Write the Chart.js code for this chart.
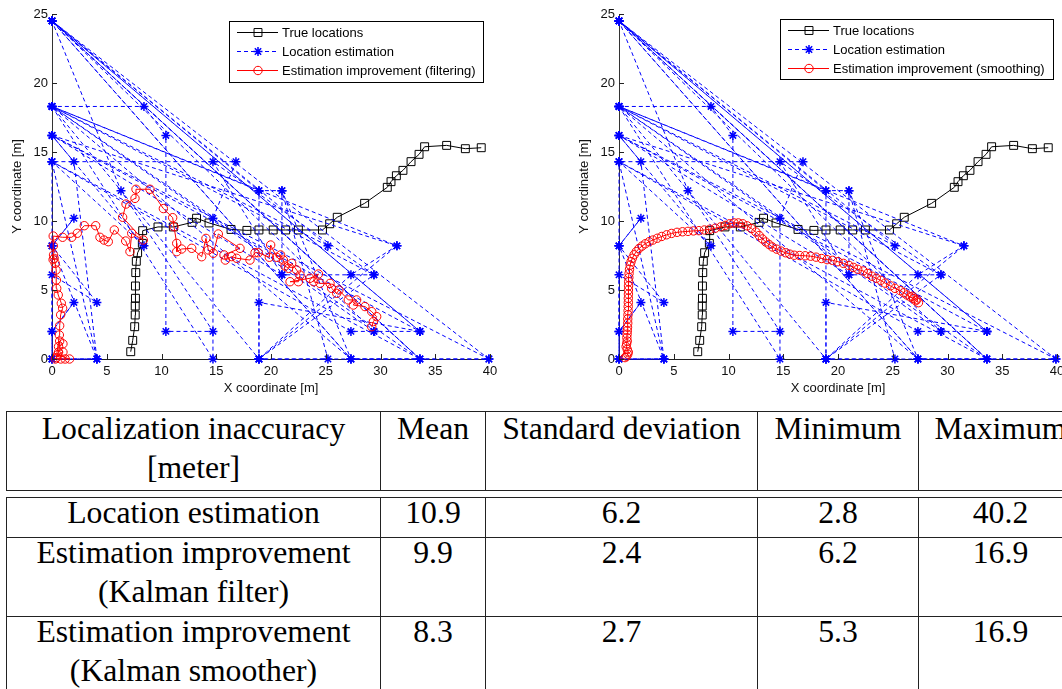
<!DOCTYPE html>
<html>
<head>
<meta charset="utf-8">
<title>Localization tracks</title>
<script src="https://cdn.jsdelivr.net/npm/chart.js@4.4.1/dist/chart.umd.min.js"></script>
<style>
  html, body { margin: 0; padding: 0; background: #fff; width: 1062px; height: 689px; overflow: hidden; }
  #wrap { position: relative; width: 1062px; height: 689px; overflow: hidden; }
  canvas { position: absolute; top: 0; }
  #leftPlot { left: 0; }
  #rightPlot { left: 567px; }
  table.stats {
    position: absolute; left: 6px; width: 1076px; border-collapse: collapse; table-layout: fixed;
    font-family: "Liberation Serif", "Times New Roman", serif; font-size: 31.7px; line-height: 39px; color: #000;
  }
  table.stats td { border: 1px solid #222; padding: 0; vertical-align: top; text-align: center; white-space: nowrap; overflow: visible; }
  #statHead td div { position: relative; top: -3.3px; }
  #statBody td div { position: relative; top: -5.5px; }
</style>
</head>
<body>
<div id="wrap">
  <canvas id="leftPlot" width="567" height="400"></canvas>
  <canvas id="rightPlot" width="567" height="400"></canvas>
  <table class="stats" id="statHead" style="top:411px"></table>
  <table class="stats" id="statBody" style="top:497px"></table>
</div>
<script>
// axis ticks
const xTicks = [0, 5, 10, 15, 20, 25, 30, 35, 40];
const yTicks = [0, 5, 10, 15, 20, 25];

// true walking path
const trueX = [7.19, 7.37, 7.55, 7.6, 7.6, 7.62, 7.62, 7.65, 7.7, 7.82, 8.25, 8.28, 9.68, 11.08, 12.79, 13.2, 14.34, 16.35, 17.8, 18.9,
  20.2, 21.34, 22.5, 24.7, 25.36, 26.05, 28.55, 30.62, 30.96, 31.45, 32.05, 32.79, 33.52, 34.03, 36.04, 37.75, 39.2];
const trueY = [0.53, 1.35, 2.34, 3.19, 3.84, 4.4, 5.29, 6.26, 7.08, 7.7, 8.38, 9.3, 9.57, 9.57, 9.9, 10.2, 9.86, 9.39, 9.32, 9.35,
  9.35, 9.35, 9.35, 9.35, 9.8, 10.27, 11.28, 12.44, 12.85, 13.28, 13.67, 14.3, 14.83, 15.38, 15.48, 15.24, 15.31];

// raw location estimates (they snap to the sensor grid)
const estX = [0, 4.1, 0, 0, 2, 0, 0, 4.1, 0, 0, 4.1, 0, 2, 0, 0, 8.4, 0, 2, 4.1, 0,
  16.8, 14.7, 14.7, 0, 18.9, 18.9, 0, 8.4, 10.4, 10.4, 14.7, 6.3, 0, 33.6, 0, 25.2, 0, 39.9, 18.9, 31.5,
  0, 33.6, 0, 27.3, 21, 21, 29.4, 18.9, 27.3, 31.5, 0, 29.4, 27.3, 0, 33.6, 0, 33.6, 18.9, 18.9, 25.2,
  21, 18.9, 0, 27.3, 0, 29.4, 14.7, 21, 0, 39.9, 27.3, 33.6, 0, 29.4, 33.6];
const estY = [0, 0, 0, 2, 4.1, 2, 8.2, 4.1, 6.1, 0, 0, 8.2, 10.2, 8.2, 14.3, 8.2, 16.2, 14.3, 0, 14.3,
  14.3, 10.2, 0, 18.3, 0, 12.2, 18.3, 18.3, 16.2, 2, 2, 12.2, 24.5, 0, 18.3, 8.2, 24.5, 0, 0, 8.2,
  16.2, 2, 24.5, 0, 12.2, 6.1, 6.1, 0, 6.1, 8.2, 18.3, 2, 2, 14.3, 0, 24.5, 2, 4.1, 0, 0,
  12.2, 12.2, 24.5, 0, 18.3, 6.1, 14.3, 6.1, 16.2, 0, 0, 0, 24.5, 2, 2];

// Kalman filter output
const filtX = [0.3, 0.8, 1.2, 1.6, 0.5, 1.0, 0.6, 1.0, 0.7, 0.6, 0.4, 0.67, 0.7, 0.79, 0.97, 0.85, 0.57, 0.43, 0.4, 0.37,
  0.29, 0.2, 0.14, 0.1, 0.12, 0.11, 0.97, 1.8, 2.31, 2.95, 3.99, 4.38, 4.75, 5.14, 5.69, 6.73, 7.12, 7.28, 8.34, 6.45,
  6.76, 7.58, 7.67, 8.95, 10.17, 11.02, 11.14, 11.39, 11.39, 11.84, 12.76, 13.67, 14.06, 14.28, 14.73, 15.19, 17.17, 15.71, 15.83, 16.41,
  16.86, 18.08, 18.54, 18.84, 19.85, 19.97, 20.52, 20.88, 21.13, 21.28, 21.6, 21.89, 22.34, 22.65, 22.5, 21.74, 23.56, 24.33, 23.9, 24.47,
  25.39, 25.54, 26.0, 26.2, 27.06, 27.82, 27.52, 28.58, 29.2, 29.65, 29.35, 29.2];
const filtY = [0, 0, 0, 0, 0.3, 0.5, 0.9, 1.1, 1.3, 0.5, 0.1, 1.74, 2.41, 3.2, 3.68, 4.04, 4.64, 5.12, 5.72, 6.45,
  6.93, 7.29, 7.54, 7.2, 8.2, 8.91, 8.82, 8.82, 9.11, 9.66, 9.66, 8.82, 8.62, 8.5, 9.35, 8.55, 7.78, 9.11, 8.62, 10.27,
  11.23, 11.64, 12.3, 12.3, 10.9, 10.24, 9.59, 8.38, 7.78, 7.97, 8.02, 7.41, 8.74, 7.9, 7.66, 9.06, 8.02, 7.54, 7.17, 7.42,
  7.3, 7.17, 7.7, 7.7, 7.37, 8.26, 7.37, 7.54, 7.17, 6.74, 6.57, 6.93, 6.45, 6.08, 5.6, 5.6, 5.85, 6.16, 5.6, 5.48,
  5.48, 5.12, 4.76, 5.0, 4.28, 4.28, 3.91, 3.8, 3.43, 3.07, 2.71, 2.34];

// Kalman smoother output
const smoothX = [0.55, 0.7, 0.8, 0.85, 0.75, 0.65, 0.7, 0.75, 0.72, 0.74, 0.76, 0.78, 0.8, 0.8, 0.82, 0.83, 0.84, 0.85, 0.85, 0.86,
  0.86, 0.87, 0.88, 0.9, 0.92, 0.96, 1.02, 1.1, 1.22, 1.38, 1.58, 1.82, 2.1, 2.4, 2.75, 3.1, 3.5, 3.9, 4.35, 4.8,
  5.3, 5.8, 6.3, 6.8, 7.3, 7.8, 8.3, 8.8, 9.3, 9.7, 10.1, 10.5, 10.9, 11.3, 11.7, 12.1, 12.5, 12.8, 13.1, 13.4,
  13.7, 14.0, 14.4, 14.8, 15.2, 15.6, 16.0, 16.5, 17.0, 17.5, 18.0, 18.5, 19.0, 19.5, 20.0, 20.5, 21.0, 21.4, 21.8, 22.3,
  22.7, 23.1, 23.5, 23.9, 24.3, 24.8, 25.2, 25.7, 26.0, 26.3, 26.6, 26.9, 27.1, 27.35, 27.2, 26.8];
const smoothY = [0.1, 0.2, 0.35, 0.5, 0.7, 0.9, 1.1, 1.3, 1.55, 1.8, 2.05, 2.3, 2.6, 2.9, 3.2, 3.5, 3.8, 4.1, 4.4, 4.7,
  5.0, 5.3, 5.6, 5.9, 6.2, 6.5, 6.8, 7.05, 7.3, 7.55, 7.78, 8.0, 8.18, 8.35, 8.5, 8.62, 8.75, 8.88, 9.0, 9.1,
  9.18, 9.22, 9.25, 9.28, 9.3, 9.35, 9.4, 9.48, 9.58, 9.68, 9.8, 9.86, 9.86, 9.8, 9.65, 9.45, 9.2, 8.95, 8.7, 8.48,
  8.3, 8.12, 7.96, 7.82, 7.7, 7.6, 7.52, 7.5, 7.48, 7.45, 7.38, 7.28, 7.2, 7.15, 7.05, 6.93, 6.78, 6.64, 6.5, 6.38,
  6.2, 6.0, 5.85, 5.7, 5.5, 5.3, 5.12, 4.95, 4.8, 4.64, 4.5, 4.38, 4.22, 4.08, 4.3, 4.55];

// error table
const statHeader = [['Localization inaccuracy', '[meter]'], ['Mean'], ['Standard deviation'], ['Minimum'], ['Maximum']];
const methodNames = [['Location estimation'], ['Estimation improvement', '(Kalman filter)'], ['Estimation improvement', '(Kalman smoother)']];
const errMean = [10.9, 9.9, 8.3];
const errStd = [6.2, 2.4, 2.7];
const errMin = [2.8, 6.2, 5.3];
const errMax = [40.2, 16.9, 16.9];
const colWidths = [374, 105, 272, 161, 164];

Chart.defaults.font.family = '"Liberation Sans", Arial, Helvetica, sans-serif';
Chart.defaults.font.size = 13;
Chart.defaults.color = '#111';

function pts(xs, ys) {
  return xs.map((v, i) => ({ x: v, y: ys[i] }));
}

// matlab style tick marks pointing into the axes
const inwardTicks = {
  id: 'inwardTicks',
  afterDatasetsDraw(chart) {
    const { ctx, chartArea: a, scales: { x, y } } = chart;
    ctx.save();
    ctx.strokeStyle = '#222';
    ctx.lineWidth = 1;
    ctx.beginPath();
    xTicks.forEach(v => {
      const px = Math.round(x.getPixelForValue(v)) + 0.5;
      ctx.moveTo(px, a.bottom);
      ctx.lineTo(px, a.bottom - 5);
    });
    yTicks.forEach(v => {
      const py = Math.round(y.getPixelForValue(v)) + 0.5;
      ctx.moveTo(a.left, py);
      ctx.lineTo(a.left + 5, py);
    });
    ctx.stroke();
    ctx.restore();
  }
};

function drawMarker(ctx, style, x, y, r, bw) {
  ctx.lineWidth = bw;
  ctx.beginPath();
  if (style === 'rect') {
    const s = r * Math.SQRT1_2;
    ctx.rect(x - s, y - s, 2 * s, 2 * s);
  } else if (style === 'circle') {
    ctx.arc(x, y, r, 0, Math.PI * 2);
  } else {
    for (let k = 0; k < 4; k++) {
      const t = k * Math.PI / 4;
      ctx.moveTo(x - r * Math.cos(t), y - r * Math.sin(t));
      ctx.lineTo(x + r * Math.cos(t), y + r * Math.sin(t));
    }
  }
  ctx.stroke();
}

// boxed legend in the upper right corner
const boxLegend = {
  id: 'boxLegend',
  afterDraw(chart, args, o) {
    const ctx = chart.ctx;
    ctx.save();
    ctx.fillStyle = '#fff';
    ctx.fillRect(o.left, o.top, o.width, o.height);
    ctx.lineWidth = 1;
    ctx.strokeStyle = '#000';
    ctx.strokeRect(o.left + 0.5, o.top + 0.5, o.width, o.height);
    ctx.font = '13px "Liberation Sans", Arial, sans-serif';
    ctx.textBaseline = 'middle';
    chart.data.datasets.forEach((ds, i) => {
      const y = Math.round(o.top + 11 + i * 19) + 0.5;
      const x0 = o.left + 8, x1 = o.left + 49, cx = o.left + 29;
      ctx.strokeStyle = ds.borderColor;
      ctx.lineWidth = 1;
      ctx.setLineDash(ds.borderDash || []);
      ctx.beginPath();
      ctx.moveTo(x0, y);
      ctx.lineTo(x1, y);
      ctx.stroke();
      ctx.setLineDash([]);
      drawMarker(ctx, ds.pointStyle, cx, y, ds.pointRadius, ds.pointBorderWidth);
      ctx.fillStyle = '#000';
      ctx.fillText(ds.label, o.left + 53, y + 0.5);
    });
    ctx.restore();
  }
};

Chart.register(inwardTicks, boxLegend);

function makePlot(id, redX, redY, redLabel, legendBox) {
  return new Chart(document.getElementById(id), {
    type: 'scatter',
    data: {
      datasets: [
        {
          label: 'True locations', data: pts(trueX, trueY), showLine: true,
          borderColor: '#000', borderWidth: 1, pointStyle: 'rect', pointRadius: 5.6,
          pointBorderColor: '#000', pointBackgroundColor: 'rgba(0,0,0,0)', pointBorderWidth: 1,
          order: 2, clip: false
        },
        {
          label: 'Location estimation', data: pts(estX, estY), showLine: true,
          borderColor: '#0000ff', borderWidth: 1, borderDash: [4, 3], pointStyle: 'star', pointRadius: 4.5,
          pointBorderColor: '#0000ff', pointBackgroundColor: '#0000ff', pointBorderWidth: 1.5,
          order: 1, clip: false
        },
        {
          label: redLabel, data: pts(redX, redY), showLine: true,
          borderColor: '#ff0000', borderWidth: 1, pointStyle: 'circle', pointRadius: 4.2,
          pointBorderColor: '#ff0000', pointBackgroundColor: 'rgba(0,0,0,0)', pointBorderWidth: 1,
          order: 0, clip: false
        }
      ]
    },
    options: {
      responsive: false,
      animation: false,
      devicePixelRatio: 1,
      elements: { line: { tension: 0 } },
      layout: { padding: { top: 14, right: 77, left: 0, bottom: 0 } },
      plugins: {
        legend: { display: false },
        tooltip: { enabled: false },
        boxLegend: legendBox
      },
      scales: {
        x: {
          type: 'linear', min: 0, max: 40,
          grid: { display: false, drawTicks: false },
          border: { display: true, color: '#222' },
          ticks: { padding: 5, maxRotation: 0, color: '#111' },
          afterBuildTicks: s => { s.ticks = xTicks.map(v => ({ value: v })); },
          afterFit: s => { s.height = 41; },
          title: { display: true, text: 'X coordinate [m]', color: '#111', padding: { top: 0, bottom: 4 } }
        },
        y: {
          type: 'linear', min: 0, max: 25,
          grid: { display: false, drawTicks: false },
          border: { display: true, color: '#333' },
          ticks: { padding: 4, color: '#111' },
          afterBuildTicks: s => { s.ticks = yTicks.map(v => ({ value: v })); },
          afterFit: s => { s.width = 52; },
          title: { display: true, text: 'Y coordinate [m]', color: '#111', padding: { top: 10, bottom: 0 } }
        }
      }
    }
  });
}

makePlot('leftPlot', filtX, filtY, 'Estimation improvement (filtering)', { left: 229, top: 21, width: 254, height: 61 });
makePlot('rightPlot', smoothX, smoothY, 'Estimation improvement (smoothing)', { left: 213, top: 19, width: 273, height: 60 });

// statistics table
function cell(lines) {
  return `<td><div>${lines.join('<br>')}</div></td>`;
}
const colgroup = '<colgroup>' + colWidths.map(w => `<col style="width:${w}px">`).join('') + '</colgroup>';
document.getElementById('statHead').innerHTML = colgroup + '<tr>' + statHeader.map(h => cell(h)).join('') + '</tr>';
document.getElementById('statBody').innerHTML = colgroup + methodNames.map((name, i) =>
  '<tr>' + cell(name) + [errMean[i], errStd[i], errMin[i], errMax[i]].map(v => cell([v.toFixed(1)])).join('') + '</tr>'
).join('');
</script>
</body>
</html>
